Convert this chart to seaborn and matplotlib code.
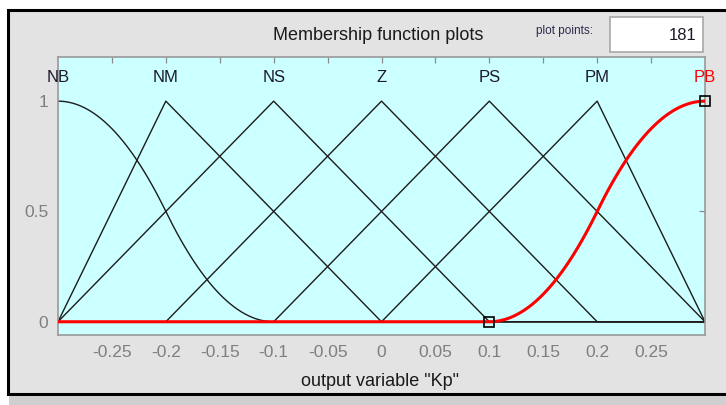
import numpy as np
import pandas as pd
import matplotlib
matplotlib.use("Agg")
import matplotlib.pyplot as plt
from matplotlib.patches import Rectangle
import seaborn as sns

# Output variable "Kp": range, sampling and membership functions
x_range = [-0.3, 0.3]
plot_points = 181
mf_names = ["NB", "NM", "NS", "Z", "PS", "PM", "PB"]
mf_types = ["zmf", "trimf", "trimf", "trimf", "trimf", "trimf", "smf"]
mf_params = [
    [-0.3, -0.1],
    [-0.3, -0.2, 0.0],
    [-0.3, -0.1, 0.1],
    [-0.2, 0.0, 0.2],
    [-0.1, 0.1, 0.3],
    [0.0, 0.2, 0.3],
    [0.1, 0.3],
]
label_pos = [-0.3, -0.2, -0.1, 0.0, 0.1, 0.2, 0.3]
selected_mf = "PB"
x_ticks = [-0.25, -0.2, -0.15, -0.1, -0.05, 0, 0.05, 0.1, 0.15, 0.2, 0.25]
x_tick_labels = ["-0.25", "-0.2", "-0.15", "-0.1", "-0.05", "0", "0.05", "0.1", "0.15", "0.2", "0.25"]
y_ticks = [0, 0.5, 1]
y_tick_labels = ["0", "0.5", "1"]


def trimf(x, p):
    a, b, c = p
    left = np.where(b > a, (x - a) / (b - a if b > a else 1), 1.0)
    right = np.where(c > b, (c - x) / (c - b if c > b else 1), 1.0)
    return np.clip(np.minimum(left, right), 0, 1)


def smf(x, p):
    a, b = p
    t = (x - a) / (b - a)
    y = np.where(t <= 0, 0.0,
                 np.where(t <= 0.5, 2 * t ** 2,
                          np.where(t <= 1, 1 - 2 * (1 - t) ** 2, 1.0)))
    return y


def zmf(x, p):
    return 1 - smf(x, p)


funcs = {"trimf": trimf, "smf": smf, "zmf": zmf}

xs = np.linspace(x_range[0], x_range[1], plot_points)
frames = []
for name, kind, prm in zip(mf_names, mf_types, mf_params):
    frames.append(pd.DataFrame({"x": xs, "mu": funcs[kind](xs, prm), "mf": name}))
df = pd.concat(frames, ignore_index=True)

sns.set_style("white")
plt.rcParams["font.family"] = ["Liberation Sans", "DejaVu Sans"]
plt.rcParams["axes.unicode_minus"] = False

W, H = 726, 405
fig = plt.figure(figsize=(W / 100, H / 100), dpi=100)
fig.patch.set_facecolor("white")

# window panel with dark frame (behind the axes)
fig.patches.append(Rectangle((8 / W, 1 - 394 / H), (760 - 8) / W, (394 - 10) / H,
                             transform=fig.transFigure, facecolor="#e3e3e3",
                             edgecolor="black", lw=2.2, zorder=-2))
fig.patches.append(Rectangle((9 / W, 0), 1, (405 - 396) / H,
                             transform=fig.transFigure, facecolor="#cfcfcf",
                             edgecolor="none", zorder=-2))

ax = fig.add_axes([58 / W, 1 - 335 / H, (705 - 58) / W, (335 - 57) / H])
ax.set_facecolor("#ccffff")

others = df[df["mf"] != selected_mf]
sns.lineplot(data=others, x="x", y="mu", units="mf", estimator=None,
             color="#1c1c1c", lw=1.0, ax=ax, legend=False, zorder=2)
sel = df[df["mf"] == selected_mf]
sns.lineplot(data=sel, x="x", y="mu", estimator=None, color="#ff0000",
             lw=2.2, ax=ax, legend=False, zorder=3)

# parameter handles of the selected function
sel_prm = mf_params[mf_names.index(selected_mf)]
sel_y = funcs[mf_types[mf_names.index(selected_mf)]](np.array(sel_prm), sel_prm)
ax.plot(sel_prm, sel_y, ls="none", marker="s", ms=6.5, mfc="none",
        mec="black", mew=1.2, clip_on=False, zorder=4)

for name, pos in zip(mf_names, label_pos):
    ax.text(pos, 1.108, name, ha="center", va="center", fontsize=12,
            color="#ff0000" if name == selected_mf else "#1a1a2a",
            clip_on=False)

ax.set_xlim(x_range)
ax.set_ylim(-0.06, 1.2)
ax.set_xticks(x_ticks)
ax.set_xticklabels(x_tick_labels)
ax.set_yticks(y_ticks)
ax.set_yticklabels(y_tick_labels)
ax.set_xlabel("")
ax.set_ylabel("")
ax.tick_params(axis="both", direction="in", length=4.5, width=0.9,
               color="#8c8c8c", labelcolor="#7f7f7f", labelsize=12.5,
               top=True, right=True, pad=7)
for sp in ax.spines.values():
    sp.set_color("#999999")
    sp.set_linewidth(1.2)

fig.text(378 / W, 1 - 35 / H, "Membership function plots", ha="center",
         va="center", fontsize=13, color="#1a1a1a")
fig.text(380 / W, 1 - 381 / H, 'output variable "Kp"', ha="center",
         va="center", fontsize=13, color="#1a1a1a")
fig.text(565 / W, 1 - 31 / H, "plot points:", ha="center", va="center",
         fontsize=8.5, color="#2a2a4a")
fig.patches.append(Rectangle((610 / W, 1 - 52 / H), (703 - 610) / W, (52 - 17) / H,
                             transform=fig.transFigure, facecolor="white",
                             edgecolor="#a8a8a8", lw=1.2, zorder=1))
fig.text(697 / W, 1 - 36 / H, str(plot_points), ha="right", va="center",
         fontsize=12, color="#1a1a2a")

fig.savefig("out.png", dpi=100)
